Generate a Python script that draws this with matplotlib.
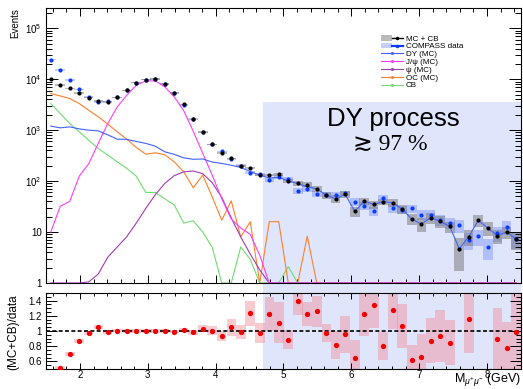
import numpy as np
import matplotlib
matplotlib.use("Agg")
import matplotlib.pyplot as plt
from matplotlib.patches import Rectangle, Patch
from matplotlib.lines import Line2D
from matplotlib.ticker import MultipleLocator, LogLocator, FuncFormatter, NullFormatter
from matplotlib.legend_handler import HandlerTuple

plt.rcParams['font.family'] = ['Liberation Sans', 'DejaVu Sans']
plt.rcParams['mathtext.fontset'] = 'custom'
plt.rcParams['mathtext.rm'] = 'Liberation Sans'
plt.rcParams['mathtext.it'] = 'Liberation Sans:italic'

# dimuon mass binning (GeV)
mass_lo, mass_hi, n_bins = 1.5, 8.5, 50

# MC + CB sum and its uncertainty
mc_sum = [10000, 7740, 6640, 5380, 4370, 3760, 3590, 4440, 6080, 8610,
          9800, 10100, 8090, 5380, 3190, 1640, 927, 525, 359, 279,
          199, 178, 133, 131, 135, 100, 90, 85, 70.6, 53,
          44.4, 55, 25.4, 40.5, 34.9, 39.3, 37.6, 28.3, 18, 14.4,
          19.1, 16.2, 12.9, 4.7, 8.1, 17, 12, 8.5, 10, 7.2]
mc_err = [300, 230, 200, 160, 130, 110, 110, 130, 180, 260,
          290, 300, 240, 160, 100, 50, 30, 18, 13, 11,
          9, 8, 7, 7, 8, 8, 9, 9, 9, 8,
          8, 8, 6, 6, 6, 6, 6, 5.5, 4.5, 4.3,
          4.8, 4, 3.2, 3, 2.7, 4.6, 3.6, 2.7, 2.8, 2.8]

# COMPASS data and its uncertainty
data = [24300, 15100, 9700, 6300, 4450, 3590, 3660, 4440, 6080, 8610,
        9800, 10100, 8090, 5430, 3140, 1670, 900, 525, 383, 266,
        202, 145, 137, 106, 122, 112, 64.5, 70, 56, 54.5,
        54.5, 57.5, 39.5, 33, 26, 46, 29.4, 27.5, 29, 22,
        21.8, 17.3, 15.2, 13.5, 7.1, 8.3, 5.1, 9.5, 12.8, 7.3]
data_err = [700, 450, 290, 190, 130, 110, 110, 130, 180, 260,
            290, 300, 240, 160, 95, 50, 28, 18, 14, 12,
            11, 10, 10, 9, 10, 10, 8, 8.4, 7.5, 7.4,
            7.4, 7.6, 6.3, 5.7, 5.1, 6.8, 5.4, 5.2, 5.4, 4.7,
            4.7, 4.2, 3.9, 3.7, 2.7, 2.9, 2.3, 3.1, 3.6, 2.7]

# simulated components
dy = [1200, 1110, 1160, 1060, 1000, 970, 810, 665, 660, 600,
      550, 485, 376, 335, 286, 268, 272, 237, 222, 205,
      185, 155, 131, 115, 119, 100, 90, 77, 70.6, 53,
      44.4, 55, 25.4, 40.5, 34.9, 39.3, 37.6, 28.3, 18, 14.4,
      19.1, 16.2, 12.9, 4.7, 8.1, 17, 12, 8.5, 10, 7.2]
jpsi = [10, 32, 40, 125, 220, 550, 1350, 2860, 4850, 7600,
        9270, 9270, 7100, 4500, 2400, 950, 350, 130, 45, 18,
        12, 9, 3.5, 1, 0, 0, 0, 0, 0, 0,
        0, 0, 0, 0, 0, 0, 0, 0, 0, 0,
        0, 0, 0, 0, 0, 0, 0, 0, 0, 0]
psi2s = [0, 0, 0, 1.0, 1.05, 1.5, 3.2, 5.1, 8.1, 15,
         29, 54, 90, 128, 152, 158, 140, 93, 48, 19,
         8, 3.7, 1.8, 1.0, 0, 0, 0, 0, 0, 0,
         0, 0, 0, 0, 0, 0, 0, 0, 0, 0,
         0, 0, 0, 0, 0, 0, 0, 0, 0, 0]
oc = [5250, 4700, 4170, 3330, 2460, 1830, 1310, 930, 665, 457,
      338, 359, 330, 238, 152, 74, 131, 49, 17, 41,
      8, 16, 0, 16, 16, 0, 0, 8.3, 0, 0,
      0, 0, 0, 0, 0, 0, 0, 0, 0, 0,
      0, 0, 0, 0, 0, 0, 0, 0, 0, 0]
cb = [3330, 2120, 1350, 930, 635, 435, 324, 239, 178, 125,
      60, 60, 45, 34, 15, 16.6, 10, 5, 0, 0,
      5.1, 2.9, 0, 0, 0, 2.1, 0, 0, 0, 0,
      0, 0, 0, 0, 0, 0, 0, 0, 0, 0,
      0, 0, 0, 0, 0, 0, 0, 0, 0, 0]

# (MC+CB)/data ratio
ratio = [0.41, 0.515, 0.697, 0.871, 0.973, 1.048, 0.982, 1.004, 1.0, 1.0,
         1.0, 1.0, 1.0, 0.99, 1.017, 0.982, 1.031, 1.004, 0.933, 1.048,
         0.986, 1.231, 0.973, 1.222, 1.111, 0.888, 1.395, 1.222, 1.257, 0.973,
         0.817, 0.955, 0.64, 1.227, 1.337, 0.804, 1.28, 1.062, 0.617, 0.657,
         0.875, 0.937, 0.848, 0.35, 1.155, 2.05, 2.35, 0.897, 0.772, 0.986]
ratio_err = [0.01, 0.02, 0.03, 0.025, 0.025, 0.025, 0.02, 0.02, 0.02, 0.02,
             0.02, 0.02, 0.02, 0.02, 0.025, 0.03, 0.05, 0.06, 0.07, 0.11,
             0.09, 0.16, 0.13, 0.22, 0.27, 0.13, 0.18, 0.155, 0.2, 0.12,
             0.18, 0.245, 0.24, 0.29, 0.3, 0.18, 0.26, 0.29, 0.2, 0.3,
             0.3, 0.34, 0.3, 0.3, 0.45, 0.5, 0.5, 0.4, 0.35, 0.5]

dy_region_start = 4.7

edges = np.linspace(mass_lo, mass_hi, n_bins + 1)
centers = 0.5 * (edges[:-1] + edges[1:])
bw = edges[1] - edges[0]

W, H = 523, 389
fig = plt.figure(figsize=(W / 100, H / 100), dpi=100)
fig.patch.set_facecolor('white')
ax = fig.add_axes([46 / W, 1 - 283 / H, 475 / W, 275 / H])
axr = fig.add_axes([46 / W, 1 - 369 / H, 475 / W, 76 / H])
for a in (ax, axr):
    a.set_facecolor('none')
    a.set_xlim(mass_lo, mass_hi)
    for s in a.spines.values():
        s.set_linewidth(0.8)

ymin, ymax = 1.0, 2.5e5
ax.set_yscale('log')
ax.set_ylim(ymin, ymax)

c_dy, c_jpsi, c_psi, c_oc, c_cb = '#4262ff', '#ff3cff', '#a03cb4', '#ff7f2a', '#6fdc6f'
c_data = '#0a3cff'

mc_a, mc_e = np.array(mc_sum), np.array(mc_err)
d_a, d_e = np.array(data), np.array(data_err)

# uncertainty boxes
ax.bar(centers, 2 * d_e, bottom=d_a - d_e, width=bw, color='#5a78ff', alpha=0.35,
       linewidth=0, zorder=1)
ax.bar(centers, 2 * mc_e, bottom=mc_a - mc_e, width=bw, color='#777777', alpha=0.5,
       linewidth=0, zorder=1.1)

# components, empty bins sit on the axis floor
for vals, col in ((cb, c_cb), (oc, c_oc), (psi2s, c_psi), (jpsi, c_jpsi), (dy, c_dy)):
    ax.plot(centers, np.clip(np.array(vals, float), ymin, None), color=col, lw=0.8, zorder=2)

ax.plot(centers, d_a, 'o', color=c_data, ms=3.0, mew=0, zorder=3)
ax.plot(centers, mc_a, 'o', color='black', ms=3.0, mew=0, zorder=3.1)

ax.xaxis.set_major_locator(MultipleLocator(1))
ax.xaxis.set_minor_locator(MultipleLocator(0.2))
ax.yaxis.set_major_locator(LogLocator(base=10, numticks=12))
ax.yaxis.set_minor_locator(LogLocator(base=10, subs=np.arange(2, 10), numticks=12))
ax.yaxis.set_minor_formatter(NullFormatter())


def log_label(v, pos):
    e = int(round(np.log10(v)))
    if e == 0:
        return '1'
    if e == 1:
        return '10'
    return r'$10^{%d}$' % e


ax.yaxis.set_major_formatter(FuncFormatter(log_label))
ax.tick_params(which='both', direction='in', top=True, right=True, labelbottom=False,
               labelsize=7, width=0.7)
ax.tick_params(axis='y', which='major', length=8.5, pad=3)
ax.tick_params(axis='y', which='minor', length=4.3)
ax.tick_params(axis='x', which='major', length=5.5)
ax.tick_params(axis='x', which='minor', length=2.8)

# ratio panel
r_a, r_e = np.array(ratio), np.array(ratio_err)
axr.set_ylim(0.5, 1.5)
inr = (r_a >= 0.5) & (r_a <= 1.5)
axr.bar(centers[inr], 2 * r_e[inr], bottom=r_a[inr] - r_e[inr], width=bw,
        color=(0.95, 0.55, 0.6), alpha=0.45, linewidth=0, zorder=1)
axr.axhline(1.0, color='black', lw=1.2, ls=(0, (2.4, 1.4)), zorder=2)
axr.plot(centers[inr], r_a[inr], 'o', color='#f00000', ms=3.8, mew=0, zorder=3)
axr.xaxis.set_major_locator(MultipleLocator(1))
axr.xaxis.set_minor_locator(MultipleLocator(0.2))
axr.yaxis.set_major_locator(MultipleLocator(0.2))
axr.yaxis.set_minor_locator(MultipleLocator(0.05))
axr.yaxis.set_major_formatter(FuncFormatter(lambda v, p: '%g' % round(v, 2)))
axr.tick_params(which='both', direction='in', top=True, right=True, labelsize=7, width=0.7)
axr.tick_params(axis='y', which='major', length=8, pad=3)
axr.tick_params(axis='y', which='minor', length=3.6)
axr.tick_params(axis='x', which='major', length=4.5, pad=0.5)
axr.tick_params(axis='x', which='minor', length=2.5)

# shaded Drell-Yan dominated region spanning both panels
to_fig = fig.transFigure.inverted()
x0 = to_fig.transform(ax.transData.transform((dy_region_start, 1.0)))[0]
y_top = to_fig.transform(ax.transData.transform((dy_region_start, 3.6e3)))[1]
x1 = ax.get_position().x1
y_bot = axr.get_position().y0
fig.add_artist(Rectangle((x0, y_bot), x1 - x0, y_top - y_bot, transform=fig.transFigure,
                         facecolor='#dfe5fb', edgecolor='none', zorder=-1))

fig.text(393 / W, 1 - 126 / H, 'DY process', fontsize=18.5, ha='center', va='baseline')
fig.text(390 / W, 1 - 150 / H, '\u2273 97 %', fontsize=17, ha='center', va='baseline',
         family=['Liberation Serif', 'DejaVu Serif', 'DejaVu Sans'])

fig.text(15 / W, 1 - 8 / H, 'Events', rotation=90, fontsize=7, ha='center', va='top')
fig.text(13 / W, 1 - 332 / H, '(MC+CB)/data', rotation=90, fontsize=8.5, ha='center',
         va='center')
fig.text(521 / W, 1 - 388 / H, r'M$_{\mu^{+}\mu^{-}}$ (GeV)', fontsize=9, ha='right',
         va='bottom')

# legend
handles = [
    (Patch(facecolor='#777777', alpha=0.5, linewidth=0),
     Line2D([], [], color='black', lw=1.0, marker='o', ms=2.5, mew=0)),
    (Patch(facecolor='#5a78ff', alpha=0.35, linewidth=0),
     Line2D([], [], color=c_data, lw=1.6, marker='o', ms=2.5, mew=0)),
    Line2D([], [], color=c_dy, lw=0.8, marker='o', ms=2.2, mew=0),
    Line2D([], [], color=c_jpsi, lw=0.8, marker='o', ms=2.2, mew=0),
    Line2D([], [], color=c_psi, lw=0.8, marker='o', ms=2.2, mew=0),
    Line2D([], [], color=c_oc, lw=0.8, marker='o', ms=2.2, mew=0),
    Line2D([], [], color=c_cb, lw=0.8, marker='o', ms=2.2, mew=0),
]
labels = ['MC + CB', 'COMPASS data', 'DY (MC)', 'J/\u03c8 (MC)', '\u03c8 (MC)', 'OC (MC)', 'CB']
ax.legend(handles, labels, loc='upper left', bbox_to_anchor=(381 / W, 1 - 35 / H),
          bbox_transform=fig.transFigure, frameon=False, fontsize=5.8, handlelength=2.7,
          handletextpad=0.35, labelspacing=0.02, borderpad=0, borderaxespad=0,
          handler_map={tuple: HandlerTuple(ndivide=None, pad=0)})

fig.savefig('out.png', dpi=100)
